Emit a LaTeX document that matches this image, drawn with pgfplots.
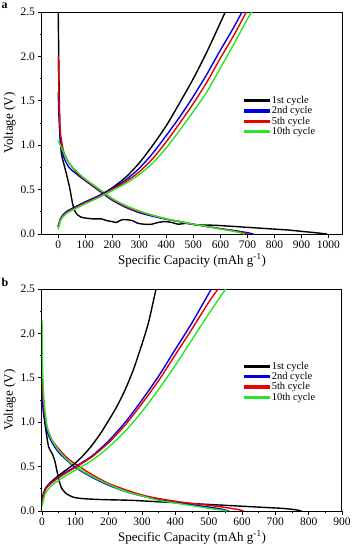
\documentclass[border=0pt]{standalone}
\usepackage{pgfplots}
\pgfplotsset{compat=1.18}
\usepackage{fontspec}
\setmainfont{Liberation Serif}
\definecolor{cblue}{RGB}{0,0,230}
\definecolor{cred}{RGB}{235,0,0}
\definecolor{cgreen}{RGB}{40,230,40}
\pgfplotsset{
  every axis/.append style={
    scale only axis, width=300pt, height=222pt,
    ymin=0, ymax=2.5,
    ytick={0,0.5,...,2.5},
    minor y tick num=1,
    yticklabel style={/pgf/number format/.cd,fixed,fixed zerofill,precision=1},
    xticklabel style={/pgf/number format/.cd,1000 sep={}},
    tick align=outside,
    xtick pos=bottom, ytick pos=left,
    major tick length=3.5pt, minor tick length=2pt,
    tick style={black, line width=0.7pt},
    axis line style={line width=1pt},
    /pgf/number format/assume math mode=true,
    tick label style={font=\fontsize{11.5}{13}\selectfont},
    label style={font=\fontsize{13}{15}\selectfont},
    xlabel={Specific Capacity (mAh g\textsuperscript{-1})},
    ylabel={Voltage (V)},
    xlabel style={yshift=2pt},
    ylabel style={yshift=-2pt},
    legend style={draw=none, fill=none, font=\fontsize{10.5}{12}\selectfont, row sep=-2.5pt, inner sep=1pt},
    legend cell align=left,
    every axis plot/.append style={line width=1.4pt, smooth, tension=0.4},
  },
  limg/.style={legend image code/.code={\fill[#1] (0cm,-0.95pt) rectangle (0.85cm,0.95pt);}},
}
\newcommand\legimgs{%
  \addlegendimage{limg=black}\addlegendentry{1st cycle}
  \addlegendimage{limg=cblue}\addlegendentry{2nd cycle}
  \addlegendimage{limg=cred}\addlegendentry{5th cycle}
  \addlegendimage{limg=cgreen}\addlegendentry{10th cycle}}
\begin{document}
\begin{tikzpicture}
\path (0,0) rectangle (355pt,-549pt);
\node[anchor=north west, inner sep=0pt, font=\bfseries\fontsize{12}{13}\selectfont] at (1.5pt,-3pt) {a};
\node[anchor=north west, inner sep=0pt, font=\bfseries\fontsize{12}{13}\selectfont] at (1.5pt,-278pt) {b};
% ---------------- panel a
\begin{axis}[at={(42pt,-234pt)}, anchor=south west,
  xmin=-60, xmax=1050, xtick={0,100,...,1000},
  legend style={at={(rel axis cs:0.67,0.635)}, anchor=north west}]
\legimgs
\addplot[black] coordinates {(0,2.5)(2,2.0)(4,1.5)(7,1.1)(12,0.9)(20,0.8)(30,0.68)(38,0.58)(45,0.48)(52,0.36)(60,0.27)(70,0.22)(85,0.19)(100,0.18)(130,0.17)(160,0.17)(180,0.15)(200,0.14)(215,0.13)(235,0.16)(255,0.16)(275,0.15)(295,0.12)(320,0.11)(345,0.11)(370,0.13)(395,0.14)(420,0.13)(445,0.11)(470,0.12)(495,0.11)(520,0.1)(560,0.1)(600,0.095)(650,0.085)(700,0.075)(750,0.065)(800,0.055)(850,0.045)(900,0.03)(950,0.015)(995,0)};
\addplot[cblue] coordinates {(0,1.6)(3,1.3)(8,1.05)(20,0.87)(40,0.75)(70,0.67)(100,0.6)(150,0.49)(200,0.38)(250,0.3)(300,0.24)(350,0.2)(400,0.165)(450,0.14)(500,0.11)(550,0.085)(600,0.06)(650,0.04)(700,0.015)(722,0)};
\addplot[cred] coordinates {(0,2.0)(3,1.5)(8,1.15)(20,0.93)(40,0.8)(70,0.69)(100,0.61)(150,0.5)(200,0.39)(250,0.31)(300,0.25)(350,0.21)(400,0.17)(450,0.14)(500,0.11)(550,0.085)(600,0.06)(650,0.035)(690,0.01)(702,0)};
\addplot[cgreen] coordinates {(0,1.05)(8,1.0)(20,0.92)(40,0.8)(70,0.7)(100,0.62)(150,0.51)(200,0.4)(250,0.32)(300,0.26)(350,0.21)(400,0.17)(450,0.14)(500,0.11)(550,0.085)(600,0.055)(650,0.03)(690,0)};
\addplot[black] coordinates {(0,0.08)(10,0.18)(30,0.25)(60,0.3)(100,0.36)(150,0.43)(200,0.52)(250,0.64)(300,0.8)(350,1.0)(400,1.22)(450,1.48)(500,1.75)(550,2.05)(600,2.38)(618,2.5)};
\addplot[cblue] coordinates {(0,0.08)(10,0.18)(30,0.25)(60,0.3)(100,0.36)(150,0.43)(200,0.51)(250,0.61)(300,0.74)(350,0.91)(400,1.11)(450,1.32)(500,1.55)(550,1.8)(600,2.07)(650,2.33)(680,2.5)};
\addplot[cred] coordinates {(0,0.08)(10,0.17)(30,0.24)(60,0.29)(100,0.35)(150,0.42)(200,0.5)(250,0.59)(300,0.7)(350,0.85)(400,1.04)(450,1.25)(500,1.47)(550,1.71)(600,1.98)(650,2.24)(696,2.5)};
\addplot[cgreen] coordinates {(0,0.05)(10,0.16)(30,0.23)(60,0.28)(100,0.34)(150,0.41)(200,0.49)(250,0.57)(300,0.67)(350,0.8)(400,0.97)(450,1.17)(500,1.38)(550,1.6)(600,1.87)(650,2.14)(700,2.42)(716,2.5)};
\end{axis}
% ---------------- panel b
\begin{axis}[at={(42pt,-511pt)}, anchor=south west,
  xmin=0, xmax=900, xtick={0,100,...,900}, minor x tick num=1,
  legend style={at={(rel axis cs:0.67,0.685)}, anchor=north west}]
\legimgs
\addplot[black] coordinates {(0,1.3)(5,1.1)(12,0.9)(20,0.72)(30,0.65)(38,0.57)(45,0.45)(52,0.33)(60,0.25)(75,0.19)(95,0.155)(120,0.14)(170,0.13)(220,0.125)(270,0.12)(320,0.11)(370,0.1)(420,0.09)(470,0.08)(520,0.07)(570,0.06)(620,0.05)(670,0.04)(720,0.03)(760,0.015)(778,0)};
\addplot[cblue] coordinates {(0,1.35)(5,1.1)(15,0.9)(30,0.77)(50,0.66)(75,0.57)(100,0.49)(150,0.38)(200,0.29)(250,0.22)(300,0.17)(350,0.13)(400,0.1)(450,0.07)(500,0.045)(540,0.02)(560,0)};
\addplot[cred] coordinates {(0,1.5)(5,1.2)(15,0.95)(30,0.8)(50,0.7)(75,0.6)(100,0.53)(150,0.41)(200,0.31)(250,0.24)(300,0.18)(350,0.14)(400,0.11)(450,0.085)(500,0.065)(550,0.04)(590,0.015)(605,0)};
\addplot[cgreen] coordinates {(0,2.15)(2,1.6)(6,1.25)(15,0.95)(30,0.8)(50,0.68)(75,0.58)(100,0.5)(150,0.39)(200,0.3)(250,0.22)(300,0.17)(350,0.12)(400,0.09)(450,0.06)(500,0.03)(540,0.01)(555,0)};
\addplot[black] coordinates {(0,0.15)(10,0.25)(25,0.32)(50,0.4)(75,0.47)(100,0.54)(125,0.63)(150,0.74)(175,0.87)(200,1.02)(225,1.18)(250,1.37)(275,1.6)(300,1.88)(320,2.13)(342,2.5)};
\addplot[cblue] coordinates {(0,0.1)(10,0.25)(30,0.33)(60,0.41)(100,0.5)(150,0.62)(200,0.79)(250,1.0)(300,1.25)(350,1.52)(400,1.82)(450,2.12)(508,2.5)};
\addplot[cred] coordinates {(0,0.1)(10,0.24)(30,0.32)(60,0.4)(100,0.49)(150,0.61)(200,0.77)(250,0.97)(300,1.21)(350,1.47)(400,1.76)(450,2.05)(500,2.35)(528,2.5)};
\addplot[cgreen] coordinates {(0,0.05)(10,0.2)(30,0.29)(60,0.37)(100,0.46)(150,0.57)(200,0.72)(250,0.9)(300,1.12)(350,1.37)(400,1.64)(450,1.93)(500,2.22)(551,2.5)};
\end{axis}
\end{tikzpicture}
\end{document}
